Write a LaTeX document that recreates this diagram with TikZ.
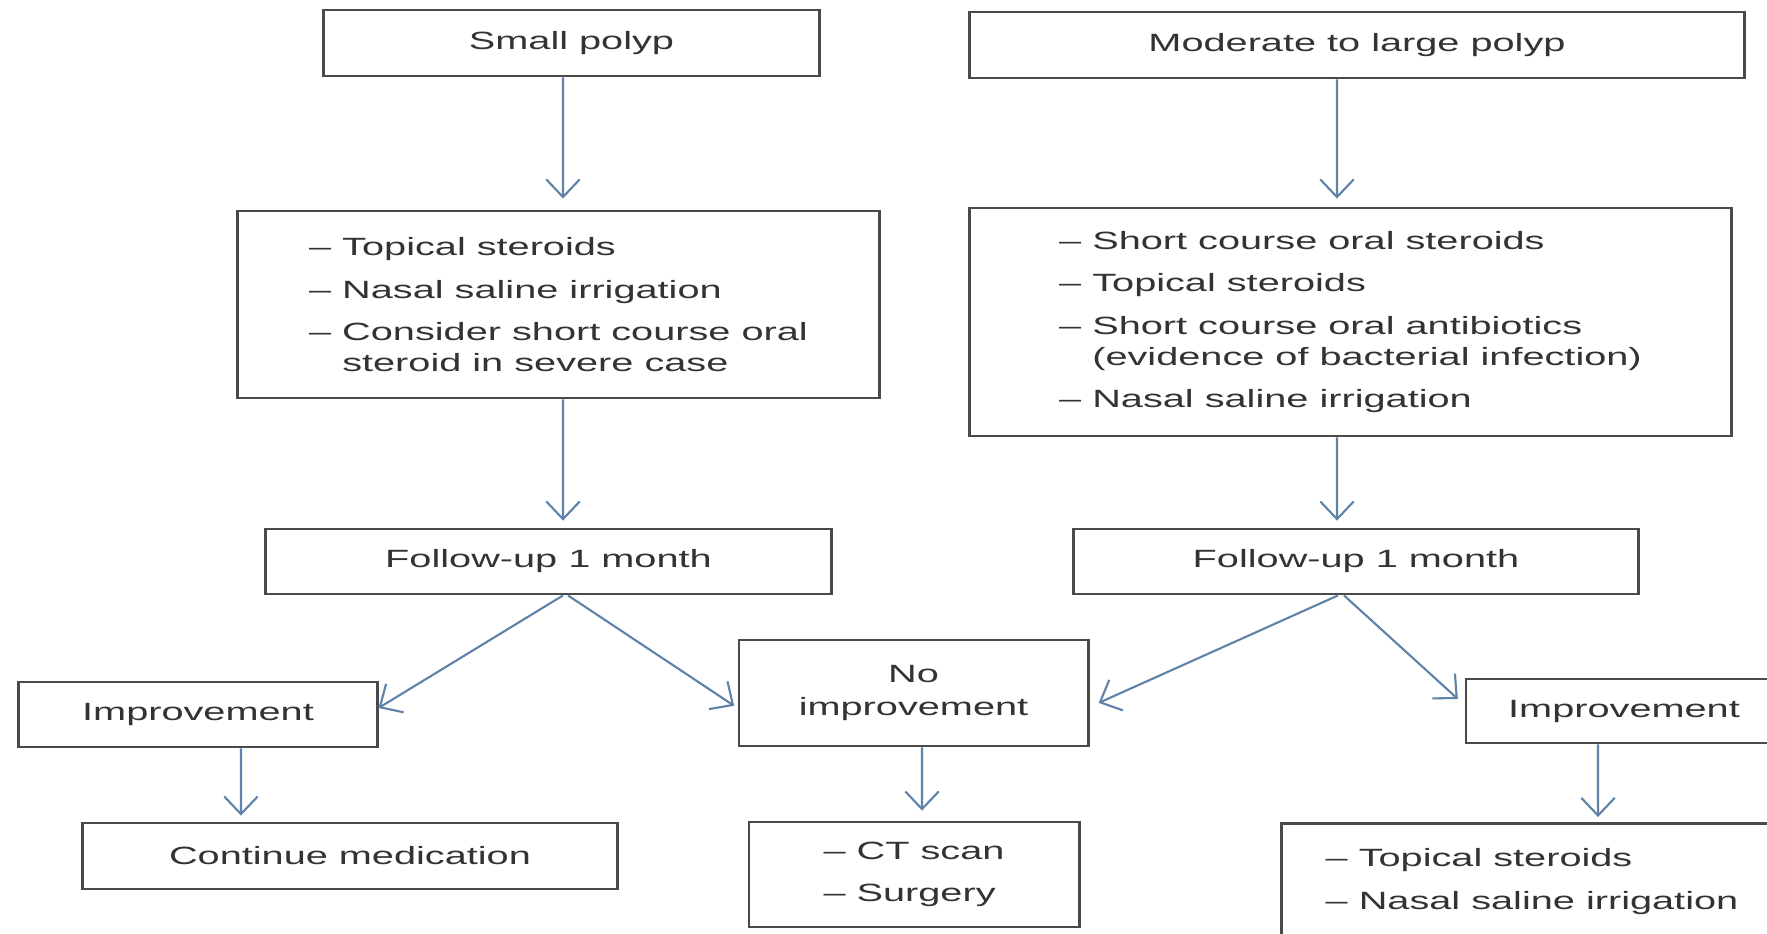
\documentclass[tikz,border=0pt]{standalone}
\usepackage{fontspec}
\newfontfamily\diafont{Liberation Sans}[FakeStretch=1.59]
\usetikzlibrary{arrows.meta}
\definecolor{boxc}{HTML}{4A4A4A}
\definecolor{arrc}{HTML}{5F82A8}
\definecolor{txtc}{HTML}{333333}
\newcommand\dsh{–~}
\newcommand\ind{\hphantom{–~}}
\begin{document}
\begin{tikzpicture}[x=0.01cm,y=-0.01cm,
  box/.style={draw=boxc, line width=0.8pt, inner sep=0pt, text=txtc,
    font=\diafont\fontsize{7.1pt}{8.7pt}\selectfont, align=center},
  arr/.style={draw=arrc, line width=0.6pt, -{Straight Barb[length=5pt,width=9.5pt]}}]
\useasboundingbox (0,0) rectangle (1767,933);
\clip (0,0) rectangle (1767,933);
\fill[white] (0,0) rectangle (1767,933);

\node[box, minimum width=4.95cm, minimum height=0.66cm] (sp) at (571.5,43) {Small polyp};
\node[box, minimum width=7.74cm, minimum height=0.66cm] (ml) at (1357,45) {Moderate to large polyp};
\node[box, minimum width=6.41cm, minimum height=1.87cm, align=left] (lt) at (558.5,304.5)
  {\dsh Topical steroids\\[3.4pt] \dsh Nasal saline irrigation\\[3.4pt] \dsh Consider short course oral\\ \ind steroid in severe case};
\node[box, minimum width=7.61cm, minimum height=2.28cm, align=left] (rt) at (1350.5,322)
  {\dsh Short course oral steroids\\[3.4pt] \dsh Topical steroids\\[3.4pt] \dsh Short course oral antibiotics\\ \ind(evidence of bacterial infection)\\[3.4pt] \dsh Nasal saline irrigation};
\node[box, minimum width=5.65cm, minimum height=0.65cm] (fl) at (548.5,561.5) {Follow-up 1 month};
\node[box, minimum width=5.64cm, minimum height=0.65cm] (fr) at (1356,561.5) {Follow-up 1 month};
\node[box, minimum width=3.58cm, minimum height=0.65cm] (il) at (198,714.5) {Improvement};
\node[box, minimum width=3.49cm, minimum height=1.06cm] (ni) at (913.5,693) {No\\[0.7pt] improvement};
\node[box, minimum width=3.16cm, minimum height=0.64cm] (ir) at (1624,711) {Improvement};
\node[box, minimum width=5.34cm, minimum height=0.66cm] (cm) at (350,856) {Continue medication};
\node[box, minimum width=3.30cm, minimum height=1.05cm, align=left] (ct) at (914,874.5) {\dsh CT scan\\[3.4pt] \dsh Surgery};
\node[box, minimum width=5.00cm, inner ysep=0.25cm, text depth=2cm, anchor=north, align=left] (rb) at (1532,822) {\dsh Topical steroids\\[3.4pt] \dsh Nasal saline irrigation};

\draw[arr, shorten >=0.11cm] ([xshift=-0.085cm]sp.south) -- ([xshift=0.045cm]lt.north);
\draw[arr, shorten >=0.08cm] ([xshift=-0.2cm]ml.south) -- ([xshift=-0.135cm]rt.north);
\draw[arr, shorten >=0.07cm] ([xshift=0.045cm]lt.south) -- ([xshift=0.145cm]fl.north);
\draw[arr, shorten >=0.07cm] ([xshift=-0.135cm]rt.south) -- ([xshift=-0.19cm]fr.north);
\draw[arr] ([xshift=0.145cm]fl.south) -- ([yshift=0.065cm]il.east);
\draw[arr, shorten >=0.04cm] ([xshift=0.195cm]fl.south) -- ([yshift=-0.15cm]ni.west);
\draw[arr, shorten >=0.10cm] ([xshift=-0.18cm]fr.south) -- ([yshift=-0.14cm]ni.east);
\draw[arr, shorten >=0.09cm] ([xshift=-0.12cm]fr.south) -- ([yshift=0.06cm]ir.west);
\draw[arr, shorten >=0.06cm] ([xshift=0.43cm]il.south) -- ([xshift=-1.09cm]cm.north);
\draw[arr, shorten >=0.10cm] ([xshift=0.085cm]ni.south) -- ([xshift=0.08cm]ct.north);
\draw[arr, shorten >=0.05cm] ([xshift=-0.26cm]ir.south) -- ([xshift=0.66cm]rb.north);
\end{tikzpicture}
\end{document}
